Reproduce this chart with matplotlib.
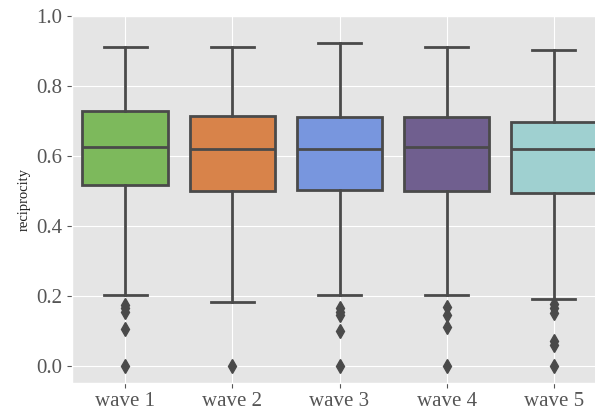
import matplotlib
matplotlib.use("Agg")
import matplotlib.pyplot as plt

waves = ["wave 1", "wave 2", "wave 3", "wave 4", "wave 5"]
q1 = [0.517, 0.500, 0.502, 0.500, 0.493]
med = [0.625, 0.619, 0.618, 0.625, 0.619]
q3 = [0.728, 0.714, 0.712, 0.712, 0.697]
whislo = [0.201, 0.182, 0.201, 0.201, 0.191]
whishi = [0.910, 0.910, 0.923, 0.910, 0.903]
fliers = [
    [0.175, 0.165, 0.155, 0.105, 0.0],
    [0.0],
    [0.165, 0.155, 0.145, 0.100, 0.0],
    [0.169, 0.144, 0.111, 0.0],
    [0.176, 0.164, 0.152, 0.070, 0.061, 0.0],
]
colors = ["#7db95c", "#d8834a", "#7896de", "#705f8f", "#9fd0d0"]

plt.style.use("ggplot")
plt.rcParams["font.family"] = ["Liberation Serif", "DejaVu Serif"]

fig = plt.figure(figsize=(5.95, 4.17), dpi=100)
# axes runs a little past the right edge of the figure, as in the reference
ax = fig.add_axes([0.1206, 0.0823, 0.9, 0.880])

stats = []
for i in range(len(waves)):
    stats.append(dict(med=med[i], q1=q1[i], q3=q3[i], whislo=whislo[i],
                      whishi=whishi[i], fliers=fliers[i], label=waves[i]))

line = "#4a4a4a"
bp = ax.bxp(stats, positions=range(len(waves)), widths=0.8, patch_artist=True,
            capwidths=0.4,
            boxprops=dict(edgecolor=line, linewidth=2),
            medianprops=dict(color=line, linewidth=2),
            whiskerprops=dict(color=line, linewidth=2),
            capprops=dict(color=line, linewidth=2),
            flierprops=dict(marker="d", markersize=7, markerfacecolor=line,
                            markeredgecolor=line))
for patch, c in zip(bp["boxes"], colors):
    patch.set_facecolor(c)
    patch.set_zorder(2)

ax.set_xlim(-0.5, 4.5)
ax.set_ylim(-0.048, 1.0)
ax.set_yticks([0.0, 0.2, 0.4, 0.6, 0.8, 1.0])
ax.set_xticks(range(len(waves)))
ax.set_xticklabels(waves)
ax.tick_params(labelsize=15, colors="#555555")
ax.set_ylabel("reciprocity", fontsize=10.5, color="#222222")
ax.set_axisbelow(True)

fig.savefig("out.png", dpi=100)
